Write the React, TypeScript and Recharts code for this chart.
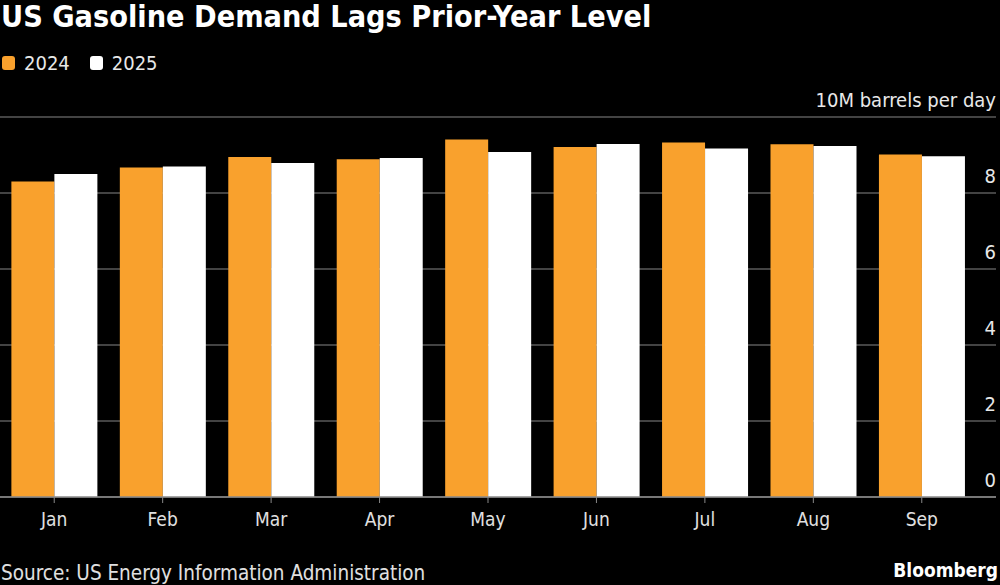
import React from 'react';
import { BarChart, Bar, XAxis, YAxis, CartesianGrid } from 'recharts';

const months = ['Jan', 'Feb', 'Mar', 'Apr', 'May', 'Jun', 'Jul', 'Aug', 'Sep'];
const y2024 = [8.3, 8.67, 8.95, 8.89, 9.41, 9.21, 9.33, 9.28, 9.01];
const y2025 = [8.5, 8.7, 8.79, 8.92, 9.08, 9.29, 9.17, 9.24, 8.97];
const yTicks = [0, 2, 4, 6, 8, 10];

const data = months.map((m, i) => ({ month: m, a: y2024[i], b: y2025[i] }));

const ORANGE = '#F9A12D';
const FONT = '"DejaVu Sans Condensed", "Liberation Sans Narrow", "DejaVu Sans", sans-serif';

const YTick = (props: any) => {
  const { x, y, payload } = props;
  const label = payload.value === 10 ? '10M barrels per day' : String(payload.value);
  return (
    <text x={x - 6} y={y - 10} textAnchor="end" fill="#e8e8e8" fontSize={20} fontFamily={FONT}>
      {label}
    </text>
  );
};

export default function App() {
  return (
    <div style={{ position: 'absolute', left: 0, top: 0, width: 1000, height: 585, background: '#000', overflow: 'hidden', fontFamily: FONT }}>
      <div style={{ position: 'absolute', left: 1, top: -2, color: '#fff', fontSize: 30.3, fontWeight: 'bold', lineHeight: '38px' }}>
        US Gasoline Demand Lags Prior-Year Level
      </div>
      <div style={{ position: 'absolute', left: 2, top: 50, display: 'flex', alignItems: 'center', color: '#e8e8e8', fontSize: 20, lineHeight: '26px' }}>
        <span style={{ display: 'inline-block', width: 13, height: 14, borderRadius: 3, background: ORANGE, marginRight: 9 }} />
        <span style={{ marginRight: 20 }}>2024</span>
        <span style={{ display: 'inline-block', width: 13, height: 14, borderRadius: 3, background: '#fff', marginRight: 9 }} />
        <span>2025</span>
      </div>
      <div style={{ position: 'absolute', left: 0, top: 0 }}>
        <BarChart width={1000} height={585} data={data} margin={{ top: 117, right: 3, bottom: 58, left: 0 }} barCategoryGap="10.5%" barGap={0}>
          <CartesianGrid vertical={false} stroke="#5a5a5a" strokeWidth={1.5} />
          <XAxis
            dataKey="month"
            height={30}
            padding={{ left: 0, right: 20 }}
            axisLine={{ stroke: '#888', strokeWidth: 1.5 }}
            tickLine={{ stroke: '#888' }}
            tickSize={6}
            tickMargin={10}
            tick={{ fill: '#e0e0e0', fontSize: 19, fontFamily: FONT }}
            interval={0}
          />
          <YAxis
            orientation="right"
            width={1}
            domain={[0, 10]}
            ticks={yTicks}
            axisLine={false}
            tickLine={false}
            tickMargin={0}
            tick={<YTick />}
            interval={0}
          />
          <Bar dataKey="a" fill={ORANGE} isAnimationActive={false} />
          <Bar dataKey="b" fill="#ffffff" isAnimationActive={false} />
        </BarChart>
      </div>
      <div style={{ position: 'absolute', left: 1, top: 560, color: '#e0e0e0', fontSize: 20.5, lineHeight: '26px' }}>
        Source: US Energy Information Administration
      </div>
      <div style={{ position: 'absolute', right: 2, top: 557, color: '#fff', fontSize: 19, fontWeight: 'bold', lineHeight: '26px' }}>
        Bloomberg
      </div>
    </div>
  );
}
